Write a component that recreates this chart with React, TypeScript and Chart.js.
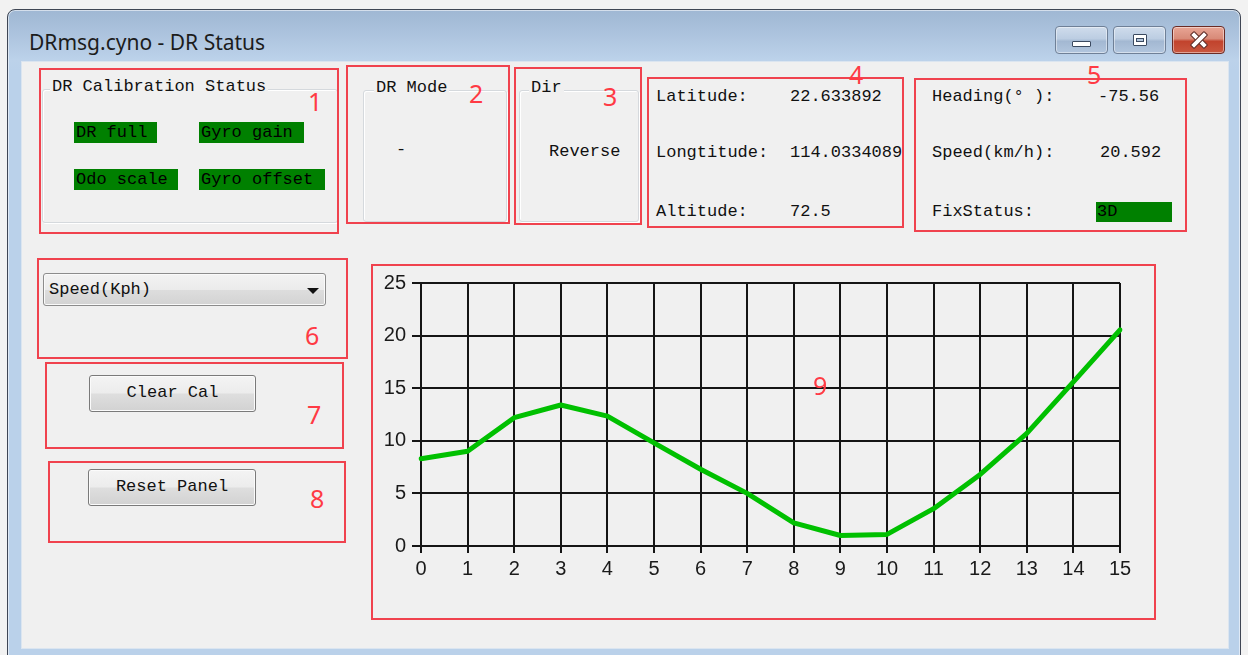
import React, { useEffect, useRef } from 'react';
import { Chart, registerables } from 'chart.js';

Chart.register(...registerables);

// ---- chart data ----
const xLabels = ['0', '1', '2', '3', '4', '5', '6', '7', '8', '9', '10', '11', '12', '13', '14', '15'];
const speedKph = [8.3, 9.0, 12.2, 13.4, 12.35, 9.8, 7.3, 5.0, 2.2, 1.0, 1.1, 3.55, 6.8, 10.7, 15.6, 20.55];
const yMin = 0;
const yMax = 25;
const yStep = 5;

// ---- panel texts ----
const calibrationFlags = ['DR full', 'Gyro gain', 'Odo scale', 'Gyro offset'];
const positionLabels = ['Latitude:', 'Longtitude:', 'Altitude:'];
const positionValues = ['22.633892', '114.0334089', '72.5'];
const motionLabels = ['Heading(° ):', 'Speed(km/h):', 'FixStatus:'];
const motionValues = ['-75.56', '20.592', '3D'];

const MONO = '"Liberation Mono", "DejaVu Sans Mono", monospace';
const SANS = '"Noto Sans", "Open Sans", "DejaVu Sans", sans-serif';
const CHART_FONT = '"Liberation Sans", Arial, sans-serif';
const RED = '#f0424e';

type Box = { x: number; y: number; w: number; h: number };

function RedBox({ x, y, w, h }: Box) {
  return (
    <div
      style={{
        position: 'absolute', left: x, top: y, width: w, height: h,
        boxSizing: 'border-box', border: `2px solid ${RED}`,
      }}
    />
  );
}

function RedNum({ x, y, n, size = 25 }: { x: number; y: number; n: string; size?: number }) {
  return (
    <div
      style={{
        position: 'absolute', left: x, top: y - 17, height: 34, lineHeight: '34px',
        fontFamily: SANS, fontSize: size, color: '#ff3a44',
      }}
    >
      {n}
    </div>
  );
}

function Txt({ x, y, children, size = 17, color = '#111', extra = {} }: any) {
  return (
    <div
      style={{
        position: 'absolute', left: x, top: y - 11, height: 22, lineHeight: '22px',
        fontFamily: MONO, fontSize: size, color, whiteSpace: 'nowrap', ...extra,
      }}
    >
      {children}
    </div>
  );
}

function Group({ x, y, w, h, title, titleX }: Box & { title: string; titleX: number }) {
  return (
    <>
      <div
        style={{
          position: 'absolute', left: x, top: y, width: w, height: h, boxSizing: 'border-box',
          border: '1px solid #d5d9dd', borderRadius: 3, boxShadow: 'inset 1px 1px 0 #ffffff, 1px 1px 0 #ffffff',
        }}
      />
      <div
        style={{
          position: 'absolute', left: titleX - 2, top: y - 13, height: 22, lineHeight: '22px',
          padding: '0 2px', background: '#f0f0f0', fontFamily: MONO, fontSize: 17, color: '#111',
          whiteSpace: 'nowrap',
        }}
      >
        {title}
      </div>
    </>
  );
}

function GreenTag({ x, y, w, h, text }: Box & { text: string }) {
  return (
    <div
      style={{
        position: 'absolute', left: x, top: y, width: w, height: h, background: '#008000',
        fontFamily: MONO, fontSize: 17, lineHeight: `${h}px`, color: '#000', paddingLeft: 2,
        boxSizing: 'border-box', whiteSpace: 'nowrap', overflow: 'hidden',
      }}
    >
      {text}
    </div>
  );
}

function PushButton({ x, y, w, h, text }: Box & { text: string }) {
  return (
    <div
      style={{
        position: 'absolute', left: x, top: y, width: w, height: h, boxSizing: 'border-box',
        border: '1px solid #7a7a7a', borderRadius: 3,
        background: 'linear-gradient(#f4f4f4 0%, #ececec 48%, #dedede 52%, #d2d2d2 100%)',
        boxShadow: 'inset 0 0 0 1px #fbfbfb',
        fontFamily: MONO, fontSize: 17, color: '#111', textAlign: 'center', lineHeight: `${h - 4}px`,
      }}
    >
      {text}
    </div>
  );
}

function CaptionButton({ x, kind }: { x: number; kind: 'min' | 'max' | 'close' }) {
  const isClose = kind === 'close';
  return (
    <div
      style={{
        position: 'absolute', left: x, top: 26, width: 53, height: 28, boxSizing: 'border-box',
        border: isClose ? '1px solid #6b2b25' : '1px solid #6f8097', borderRadius: 4,
        background: isClose
          ? 'linear-gradient(#e8a595 0%, #d88a78 45%, #c2432d 55%, #c9573f 100%)'
          : 'linear-gradient(#cfdcec 0%, #bccde2 45%, #a3b8d2 55%, #b2c6de 100%)',
        boxShadow: 'inset 0 0 0 1px rgba(255,255,255,0.45)',
      }}
    >
      {kind === 'min' && (
        <div
          style={{
            position: 'absolute', left: 16, top: 14, width: 19, height: 6, background: '#fff',
            border: '1px solid #3b4a60', borderRadius: 1, boxSizing: 'border-box',
          }}
        />
      )}
      {kind === 'max' && (
        <div
          style={{
            position: 'absolute', left: 19, top: 7, width: 14, height: 12, background: '#fff',
            border: '1px solid #3b4a60', borderRadius: 1, boxSizing: 'border-box',
          }}
        >
          <div
            style={{
              position: 'absolute', left: 2, top: 3, width: 8, height: 4,
              border: '1px solid #3b4a60', background: '#b5c7dd', boxSizing: 'border-box',
            }}
          />
        </div>
      )}
      {isClose && (
        <>
          {[45, -45].map((r) => (
            <div
              key={r}
              style={{
                position: 'absolute', left: 16, top: 10, width: 20, height: 6, background: '#fff',
                border: '1px solid #5a2620', boxSizing: 'border-box', borderRadius: 1,
                transform: `rotate(${r}deg)`,
              }}
            />
          ))}
        </>
      )}
    </div>
  );
}

function SpeedChart() {
  const ref = useRef<HTMLCanvasElement | null>(null);
  useEffect(() => {
    if (!ref.current) return;
    const gridColor = '#151515';
    const tickFont = { family: CHART_FONT, size: 20 };
    const chart = new Chart(ref.current, {
      type: 'line',
      data: {
        labels: xLabels,
        datasets: [
          {
            data: speedKph,
            borderColor: '#00c000',
            borderWidth: 5,
            pointRadius: 0,
            tension: 0,
            fill: false,
            borderJoinStyle: 'round',
            borderCapStyle: 'round',
          },
        ],
      },
      options: {
        animation: false,
        responsive: false,
        devicePixelRatio: 1,
        layout: { padding: { left: 0, top: 19, right: 36, bottom: 0 } },
        plugins: { legend: { display: false }, tooltip: { enabled: false } },
        scales: {
          x: {
            type: 'category',
            offset: false,
            grid: { color: gridColor, lineWidth: 2, tickLength: 7, tickColor: gridColor, tickWidth: 2 },
            border: { color: gridColor, width: 2 },
            ticks: { color: '#1a1a1a', font: tickFont, padding: 4, maxRotation: 0, autoSkip: false },
            afterFit: (s: any) => { s.height = 74; },
          },
          y: {
            min: yMin,
            max: yMax,
            grid: { color: gridColor, lineWidth: 2, tickLength: 9, tickColor: gridColor, tickWidth: 2 },
            border: { color: gridColor, width: 2 },
            ticks: { stepSize: yStep, color: '#1a1a1a', font: tickFont, padding: 6 },
            afterFit: (s: any) => { s.width = 49; },
          },
        },
      },
    } as any);
    return () => chart.destroy();
  }, []);
  return (
    <canvas
      ref={ref}
      width={784}
      height={356}
      style={{ position: 'absolute', left: 372, top: 264, width: 784, height: 356 }}
    />
  );
}

export default function App() {
  return (
    <div
      style={{
        position: 'fixed', left: 0, top: 0, width: 1248, height: 655, overflow: 'hidden',
        background: '#f2f2f2',
      }}
    >
      {/* window frame */}
      <div
        style={{
          position: 'absolute', left: 7, top: 9, width: 1234, height: 660, boxSizing: 'border-box',
          border: '1px solid #3f4654', borderRadius: '8px 8px 0 0',
          background: 'linear-gradient(#9fb7d3 0px, #aac1dc 20px, #bcd2ea 50px, #bad1ea 60px, #bad1ea 100%)',
          boxShadow: 'inset 0 0 0 1px rgba(255,255,255,0.55)',
        }}
      />
      <div
        style={{
          position: 'absolute', left: 29, top: 42 - 16, height: 32, lineHeight: '32px',
          fontFamily: SANS, fontSize: 21, color: '#1c1c1c', whiteSpace: 'nowrap',
        }}
      >
        DRmsg.cyno - DR Status
      </div>
      <CaptionButton x={1055} kind="min" />
      <CaptionButton x={1113} kind="max" />
      <CaptionButton x={1172} kind="close" />

      {/* client area */}
      <div
        style={{
          position: 'absolute', left: 21, top: 61, width: 1208, height: 588, boxSizing: 'border-box',
          background: '#f0f0f0', border: '1px solid #dbe5f0',
        }}
      />

      {/* 1: calibration status */}
      <Group x={42} y={89} w={296} h={134} title="DR Calibration Status" titleX={52} />
      <GreenTag x={74} y={122} w={83} h={21} text={calibrationFlags[0]} />
      <GreenTag x={199} y={122} w={105} h={21} text={calibrationFlags[1]} />
      <GreenTag x={74} y={169} w={104} h={21} text={calibrationFlags[2]} />
      <GreenTag x={199} y={169} w={126} h={21} text={calibrationFlags[3]} />

      {/* 2: DR mode */}
      <Group x={363} y={90} w={144} h={132} title="DR Mode" titleX={376} />
      <Txt x={396} y={150}>-</Txt>

      {/* 3: Dir */}
      <Group x={519} y={90} w={120} h={132} title="Dir" titleX={531} />
      <Txt x={549} y={152}>Reverse</Txt>

      {/* 4: position */}
      {positionLabels.map((l, i) => (
        <Txt key={l} x={656} y={[97, 153, 212][i]}>{l}</Txt>
      ))}
      {positionValues.map((v, i) => (
        <Txt key={v} x={790} y={[97, 153, 212][i]}>{v}</Txt>
      ))}

      {/* 5: motion */}
      {motionLabels.map((l, i) => (
        <Txt key={l} x={932} y={[97, 153, 212][i]}>{l}</Txt>
      ))}
      <Txt x={1098} y={97}>{motionValues[0]}</Txt>
      <Txt x={1100} y={153}>{motionValues[1]}</Txt>
      <div
        style={{
          position: 'absolute', left: 1096, top: 202, width: 76, height: 20, background: '#008000',
          fontFamily: MONO, fontSize: 17, lineHeight: '20px', color: '#000', paddingLeft: 1, boxSizing: 'border-box',
        }}
      >
        {motionValues[2]}
      </div>

      {/* 6: combo box */}
      <div
        style={{
          position: 'absolute', left: 43, top: 273, width: 283, height: 33, boxSizing: 'border-box',
          border: '1px solid #8c8c8c', borderRadius: 3,
          background: 'linear-gradient(#f3f3f3 0%, #ebebeb 50%, #dddddd 52%, #d3d3d3 100%)',
          boxShadow: 'inset 0 0 0 1px #fafafa',
        }}
      >
        <div
          style={{
            position: 'absolute', left: 5, top: 4, height: 24, lineHeight: '24px',
            fontFamily: MONO, fontSize: 17, color: '#111',
          }}
        >
          Speed(Kph)
        </div>
        <div
          style={{
            position: 'absolute', left: 263, top: 14, width: 0, height: 0,
            borderLeft: '6px solid transparent', borderRight: '6px solid transparent', borderTop: '6px solid #111',
          }}
        />
      </div>

      {/* 7, 8: buttons */}
      <PushButton x={89} y={375} w={167} h={37} text="Clear Cal" />
      <PushButton x={88} y={469} w={168} h={37} text="Reset Panel" />

      {/* 9: chart */}
      <SpeedChart />

      {/* red annotation boxes */}
      <RedBox x={39} y={68} w={300} h={166} />
      <RedBox x={346} y={65} w={164} h={159} />
      <RedBox x={514} y={67} w={128} h={158} />
      <RedBox x={647} y={77} w={257} h={151} />
      <RedBox x={914} y={78} w={273} h={154} />
      <RedBox x={37} y={258} w={311} h={101} />
      <RedBox x={45} y={362} w={299} h={87} />
      <RedBox x={48} y={461} w={298} h={82} />
      <RedBox x={371} y={264} w={785} h={356} />

      <RedNum x={308} y={101} n="1" />
      <RedNum x={469} y={93} n="2" />
      <RedNum x={603} y={96} n="3" />
      <RedNum x={849} y={74} n="4" />
      <RedNum x={1087} y={74} n="5" />
      <RedNum x={305} y={335} n="6" />
      <RedNum x={307} y={414} n="7" />
      <RedNum x={310} y={498} n="8" />
      <RedNum x={813} y={385} n="9" />
    </div>
  );
}
